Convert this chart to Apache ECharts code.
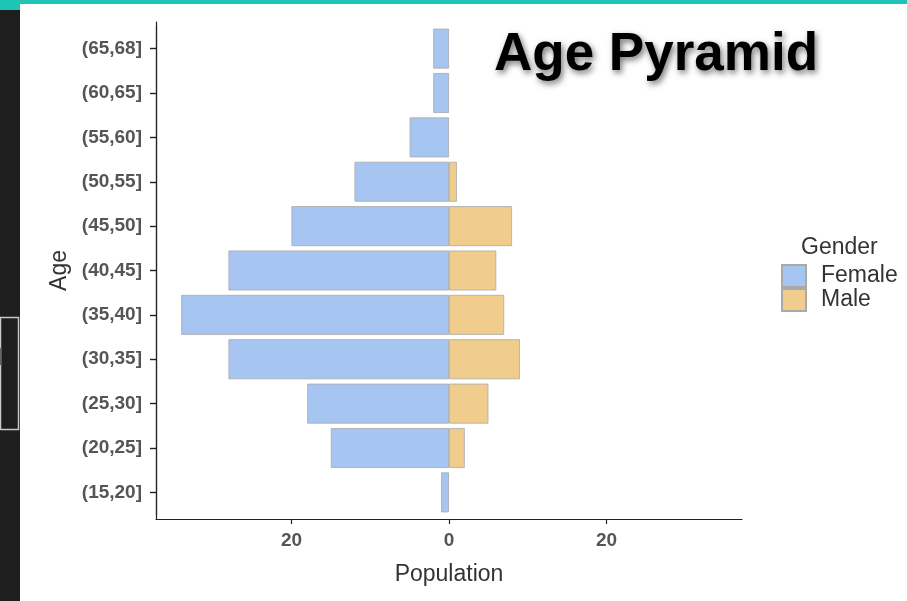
<!DOCTYPE html>
<html>
<head>
<meta charset="utf-8">
<script src="https://cdn.jsdelivr.net/npm/echarts@6/dist/echarts.min.js"></script>
<style>
html,body{margin:0;padding:0;background:#fff;}
#chart{width:907px;height:601px;}
</style>
</head>
<body>
<div id="chart"></div>
<script>
// Data (youngest to oldest; category axis draws first item at bottom)
const ageGroups = ['(15,20]','(20,25]','(25,30]','(30,35]','(35,40]','(40,45]','(45,50]','(50,55]','(55,60]','(60,65]','(65,68]'];
const female = [1, 15, 18, 28, 34, 28, 20, 12, 5, 2, 2];
const male   = [0, 2, 5, 9, 7, 6, 8, 1, 0, 0, 0];
const xTicks = [-20, 0, 20];
const xRange = 37.2;

const FEMALE_COLOR = '#a7c5f1';
const MALE_COLOR = '#f0cc8d';
const FONT = 'Liberation Sans, Arial, sans-serif';

const chart = echarts.init(document.getElementById('chart'), null, {renderer: 'canvas'});

const plotTop = 22, plotBottom = 82;           // outer plot area (axis lines)
const bandH = (601 - plotTop - plotBottom) / (ageGroups.length - 1 + 1.2);
const pad = 0.1 * bandH;                        // ggplot 0.6 expansion vs echarts 0.5

const option = {
  backgroundColor: '#ffffff',
  animation: false,
  title: [
    {
      text: 'Age Pyramid',
      left: 489, top: 24,
      textStyle: {
        fontFamily: FONT, fontSize: 53, fontWeight: 'bold', color: '#000',
        textShadowColor: 'rgba(0,0,0,0.55)', textShadowBlur: 6,
        textShadowOffsetX: 2, textShadowOffsetY: 3
      }
    },
    {
      text: 'Gender',
      left: 796, top: 231,
      textStyle: {fontFamily: FONT, fontSize: 23, fontWeight: 'normal', color: '#333'}
    }
  ],
  legend: {
    data: ['Female', 'Male'],
    orient: 'vertical',
    left: 781, top: 264,
    itemWidth: 24, itemHeight: 22, itemGap: 0,
    icon: 'rect',
    padding: 0,
    textStyle: {fontFamily: FONT, fontSize: 23, color: '#333', lineHeight: 22, padding: [0, 0, 0, 10]}
  },
  grid: [
    {left: 156, right: 165, top: plotTop, bottom: plotBottom},
    {left: 156, right: 165, top: plotTop + pad, bottom: plotBottom + pad}
  ],
  xAxis: [
    {
      gridIndex: 0, type: 'value', min: -xRange, max: xRange,
      name: 'Population', nameLocation: 'middle', nameGap: 44,
      nameTextStyle: {fontFamily: FONT, fontSize: 23, color: '#333'},
      axisLine: {show: true, onZero: false, lineStyle: {color: '#222', width: 1.2}},
      axisTick: {show: true, length: 5, customValues: xTicks, lineStyle: {color: '#222', width: 1.2}},
      axisLabel: {
        customValues: xTicks, margin: 12,
        fontFamily: FONT, fontSize: 19, fontWeight: 'bold', color: '#555',
        formatter: v => String(Math.abs(v))
      },
      splitLine: {show: false}
    },
    {
      gridIndex: 1, type: 'value', min: -xRange, max: xRange, show: false,
      axisLine: {onZero: false}
    }
  ],
  yAxis: [
    {
      gridIndex: 0, type: 'value', min: 0, max: 1,
      name: 'Age', nameLocation: 'middle', nameGap: 85,
      nameTextStyle: {fontFamily: FONT, fontSize: 23, color: '#333'},
      axisLine: {show: true, onZero: false, lineStyle: {color: '#222', width: 1.2}},
      axisTick: {show: false}, axisLabel: {show: false}, splitLine: {show: false}
    },
    {
      gridIndex: 1, type: 'category', data: ageGroups,
      axisLine: {show: true, onZero: false, lineStyle: {color: '#222', width: 1.2}},
      axisTick: {show: true, alignWithLabel: true, length: 6, lineStyle: {color: '#222', width: 1.4}},
      axisLabel: {margin: 14, fontFamily: FONT, fontSize: 19, fontWeight: 'bold', color: '#555'},
      splitLine: {show: false}
    }
  ],
  series: [
    {
      name: 'Female', type: 'bar', xAxisIndex: 1, yAxisIndex: 1,
      data: female.map(v => v ? -v : null),
      barWidth: '90%', barGap: '-100%',
      itemStyle: {color: FEMALE_COLOR, borderColor: '#a9a9a9', borderWidth: 0.8}
    },
    {
      name: 'Male', type: 'bar', xAxisIndex: 1, yAxisIndex: 1,
      data: male.map(v => v ? v : null),
      barWidth: '90%', barGap: '-100%',
      itemStyle: {color: MALE_COLOR, borderColor: '#a9a9a9', borderWidth: 0.8}
    }
  ],
  graphic: [
    {type: 'rect', left: 0, top: 0, shape: {width: 907, height: 4}, style: {fill: '#1ec4b5'}, silent: true},
    {type: 'rect', left: 0, top: 0, shape: {width: 20, height: 10}, style: {fill: '#1ec4b5'}, silent: true},
    {type: 'rect', left: 0, top: 10, shape: {width: 20, height: 591}, style: {fill: '#1e1e1e'}, silent: true},
    {type: 'rect', left: -2, top: 315, shape: {width: 18, height: 112}, style: {fill: 'none', stroke: '#c8c8c8', lineWidth: 1.5}, silent: true},
    {type: 'rect', left: 0, top: 348, shape: {width: 1.5, height: 17}, style: {fill: '#666'}, silent: true}
  ]
};
chart.setOption(option);
</script>
</body>
</html>
